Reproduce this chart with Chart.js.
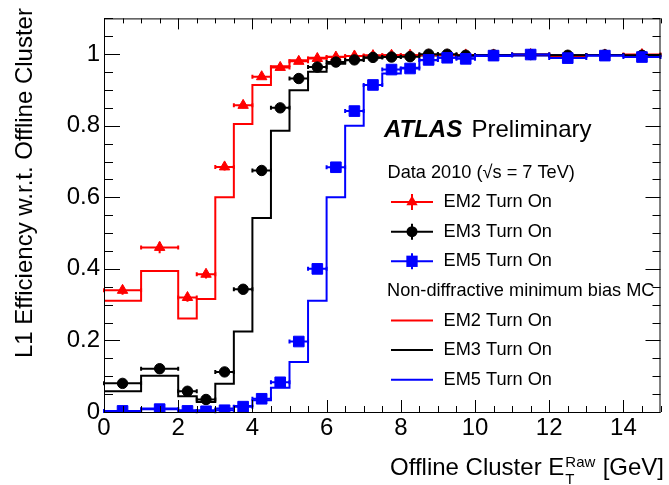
<!DOCTYPE html>
<html><head><meta charset="utf-8">
<script src="https://cdn.jsdelivr.net/npm/chart.js@4/dist/chart.umd.min.js"></script>
<style>html,body{margin:0;padding:0;background:#fff}#wrap{width:669px;height:485px}</style>
</head><body><div id="wrap"><canvas id="c" width="669" height="485"></canvas></div>
<script>
// ---- data ----
const binEdges = [0,1,2,2.5,3,3.5,4,4.5,5,5.5,6,6.5,7,7.5,8,8.5,9,9.5,10,11,12,13,14,15];
const xTickValues = [0,2,4,6,8,10,12,14];
const yTickValues = [0,0.2,0.4,0.6,0.8,1];

const em2Data = [0.34,0.46,0.32,0.385,0.685,0.857,0.937,0.963,0.98,0.988,0.992,0.995,0.996,0.997,0.997,0.998,0.998,0.998,0.998,0.999,0.995,0.998,0.999];
const em2Err  = [0.012,0.016,0.012,0.012,0.010,0.008,0.005,0.004,0.003,0.003,0.002,0.002,0.002,0.002,0.002,0.002,0.002,0.002,0.002,0.002,0.003,0.003,0.004];
const em3Data = [0.08,0.121,0.058,0.035,0.112,0.343,0.675,0.85,0.932,0.964,0.978,0.984,0.991,0.992,0.993,1.0,1.0,0.997,0.998,0.999,0.997,0.998,0.997];
const em3Err  = [0.006,0.008,0.006,0.005,0.008,0.010,0.010,0.008,0.006,0.004,0.003,0.003,0.003,0.003,0.003,0.003,0.003,0.003,0.003,0.003,0.003,0.004,0.004];
const em5Data = [0.003,0.008,0.003,0.002,0.005,0.015,0.037,0.083,0.197,0.40,0.684,0.841,0.914,0.957,0.96,0.984,0.99,0.987,0.996,0.999,0.989,0.996,0.992];
const em5Err  = [0.002,0.003,0.002,0.002,0.003,0.004,0.006,0.008,0.010,0.012,0.012,0.010,0.008,0.006,0.006,0.005,0.004,0.004,0.003,0.003,0.004,0.004,0.005];

const em2MC = [0.311,0.394,0.261,0.316,0.60,0.805,0.914,0.966,0.983,0.99,0.993,0.995,0.996,0.997,0.997,0.998,0.998,0.998,0.998,0.998,0.998,0.998,0.998];
const em3MC = [0.058,0.101,0.044,0.028,0.079,0.225,0.542,0.786,0.899,0.951,0.973,0.983,0.99,0.993,0.995,0.996,0.997,0.997,0.997,0.997,0.997,0.997,0.997];
const em5MC = [0.002,0.01,0.005,0.005,0.01,0.017,0.033,0.068,0.14,0.311,0.60,0.80,0.914,0.946,0.962,0.983,0.99,0.993,0.995,0.996,0.996,0.996,0.996];

const RED='#ff0000', BLACK='#000000', BLUE='#0000ff';
const FONT="'Liberation Sans', Arial, Helvetica, sans-serif";

function pointsFrom(vals, errs){
  return vals.map((v,i)=>({x:(binEdges[i]+binEdges[i+1])/2, y:v, xlo:binEdges[i], xhi:binEdges[i+1], err:errs[i]}));
}
function stepFrom(vals){
  const pts=[];
  vals.forEach((v,i)=>{pts.push({x:binEdges[i],y:v});pts.push({x:binEdges[i+1],y:v});});
  return pts;
}

function mcSet(label, vals, color, order){
  return {type:'line', label, data:stepFrom(vals), borderColor:color, borderWidth:2, pointRadius:0, fill:false, tension:0, order, isMC:true};
}
function dataSet(label, vals, errs, color, style, radius, order){
  return {type:'scatter', label, data:pointsFrom(vals,errs), backgroundColor:color, borderColor:color, borderWidth:1,
    pointStyle:style, pointRadius:radius, order, showLine:false, isData:true, errColor:color};
}

// error bars drawn just before each data set's markers
const errorBars = {
  id:'errorBars',
  beforeDatasetDraw(chart, args){
    const ds = chart.data.datasets[args.index];
    if(!ds.isData) return;
    const ctx=chart.ctx, xs=chart.scales.x, ys=chart.scales.y;
    ctx.save();
    ctx.strokeStyle=ds.errColor; ctx.lineWidth=2;
    ds.data.forEach(p=>{
      const y=ys.getPixelForValue(p.y), x=xs.getPixelForValue(p.x);
      const x0=xs.getPixelForValue(p.xlo), x1=xs.getPixelForValue(p.xhi);
      const yt=ys.getPixelForValue(Math.min(p.y+p.err,1.1)), yb=ys.getPixelForValue(p.y-p.err);
      ctx.beginPath();
      ctx.moveTo(x0,y); ctx.lineTo(x1,y);
      ctx.moveTo(x0,y-2); ctx.lineTo(x0,y+2);
      ctx.moveTo(x1,y-2); ctx.lineTo(x1,y+2);
      ctx.moveTo(x,yt); ctx.lineTo(x,yb);
      ctx.stroke();
    });
    ctx.restore();
  }
};

function drawMarker(ctx, style, x, y, r, color){
  ctx.fillStyle=color;
  ctx.beginPath();
  if(style==='triangle'){
    const a=-Math.PI/2;
    for(let k=0;k<3;k++){const ang=a+k*2*Math.PI/3; const px=x+r*Math.cos(ang), py=y+r*Math.sin(ang); if(k===0)ctx.moveTo(px,py); else ctx.lineTo(px,py);}
    ctx.closePath();
  } else if(style==='circle'){
    ctx.arc(x,y,r,0,2*Math.PI);
  } else {
    const s=r*Math.SQRT1_2; ctx.rect(x-s,y-s,2*s,2*s);
  }
  ctx.fill();
}

const frameAndText = {
  id:'frameAndText',
  afterDraw(chart){
    const ctx=chart.ctx, a=chart.chartArea, xs=chart.scales.x, ys=chart.scales.y;
    ctx.save();
    // frame
    ctx.strokeStyle='#000'; ctx.lineWidth=1;
    ctx.strokeRect(a.left+0.5, a.top+0.5, a.right-a.left-1, a.bottom-a.top);
    // ticks
    ctx.beginPath();
    for(let v=0; v<=15.0001; v+=0.5){
      const major = Math.abs(v/2-Math.round(v/2))<1e-6;
      const px=Math.round(xs.getPixelForValue(v))+0.5;
      ctx.moveTo(px,a.bottom); ctx.lineTo(px,a.bottom-(major?12:6));
      ctx.moveTo(px,a.top); ctx.lineTo(px,a.top+(major?11:5));
    }
    for(let v=0; v<=1.1001; v+=0.05){
      const major = Math.abs(v/0.2-Math.round(v/0.2))<1e-6;
      const py=Math.round(ys.getPixelForValue(v))+0.5;
      ctx.moveTo(a.left,py); ctx.lineTo(a.left+(major?16:9),py);
      ctx.moveTo(a.right,py); ctx.lineTo(a.right-(major?15:8),py);
    }
    ctx.stroke();

    // titles
    ctx.fillStyle='#000';
    ctx.textBaseline='alphabetic';
    ctx.textAlign='left';
    ctx.save();
    ctx.translate(32,358); ctx.rotate(-Math.PI/2);
    ctx.font='24px '+FONT;
    ctx.fillText('L1 Efficiency w.r.t. Offline Cluster',0,0);
    ctx.restore();
    ctx.font='24px '+FONT;
    const t1='Offline Cluster E';
    ctx.fillText(t1,390,475);
    const eEnd=390+ctx.measureText(t1).width;
    ctx.font='15px '+FONT;
    ctx.fillText('T',eEnd+1,484);
    ctx.fillText('Raw',eEnd+1,466.5);
    ctx.font='24px '+FONT;
    ctx.textAlign='right';
    ctx.fillText('[GeV]',664,475);
    ctx.textAlign='left';

    // ATLAS label
    ctx.font='italic bold 24px '+FONT;
    ctx.fillText('ATLAS',384,136.7);
    ctx.font='24px '+FONT;
    ctx.fillText('Preliminary',471.5,136.7);

    // legend
    ctx.font='18.2px '+FONT;
    ctx.textBaseline='middle';
    ctx.fillText('Data 2010 (\u221As = 7 TeV)',387.5,172.5);
    const rows=[
      {t:'EM2 Turn On',c:RED,m:'triangle',r:6.5,y:202},
      {t:'EM3 Turn On',c:BLACK,m:'circle',r:5.5,y:231.7},
      {t:'EM5 Turn On',c:BLUE,m:'rect',r:8,y:261.3},
    ];
    rows.forEach(o=>{
      ctx.strokeStyle=o.c; ctx.lineWidth=2;
      ctx.beginPath(); ctx.moveTo(391,o.y); ctx.lineTo(433,o.y);
      ctx.moveTo(412,o.y-8); ctx.lineTo(412,o.y+8); ctx.stroke();
      drawMarker(ctx,o.m,412,o.y,o.r,o.c);
      ctx.fillStyle='#000'; ctx.fillText(o.t,443.5,o.y);
    });
    ctx.fillText('Non-diffractive minimum bias MC',387,290.9);
    const rows2=[{t:'EM2 Turn On',c:RED,y:320.5},{t:'EM3 Turn On',c:BLACK,y:350.1},{t:'EM5 Turn On',c:BLUE,y:379.7}];
    rows2.forEach(o=>{
      ctx.strokeStyle=o.c; ctx.lineWidth=2;
      ctx.beginPath(); ctx.moveTo(391,o.y); ctx.lineTo(433,o.y); ctx.stroke();
      ctx.fillStyle='#000'; ctx.fillText(o.t,443.5,o.y);
    });
    ctx.restore();
  }
};

const bg = {id:'bg', beforeDraw(chart){const c=chart.ctx; c.save(); c.fillStyle='#fff'; c.fillRect(0,0,chart.width,chart.height); c.restore();}};

const fmt = v => String(+Number(v).toFixed(2));

new Chart(document.getElementById('c'), {
  data:{datasets:[
    dataSet('EM5 Turn On (data)', em5Data, em5Err, BLUE, 'rect', 7.5, 1),
    dataSet('EM3 Turn On (data)', em3Data, em3Err, BLACK, 'circle', 5.2, 2),
    dataSet('EM2 Turn On (data)', em2Data, em2Err, RED, 'triangle', 6, 3),
    mcSet('EM5 Turn On (MC)', em5MC, BLUE, 4),
    mcSet('EM3 Turn On (MC)', em3MC, BLACK, 5),
    mcSet('EM2 Turn On (MC)', em2MC, RED, 6),
  ]},
  options:{
    responsive:false, animation:false, devicePixelRatio:1,
    layout:{padding:{top:11,right:4,left:0,bottom:0}},
    plugins:{legend:{display:false}, tooltip:{enabled:false}},
    scales:{
      x:{type:'linear', min:0, max:15,
        grid:{display:false, drawTicks:false}, border:{display:false},
        ticks:{font:{family:FONT,size:24}, color:'#000', padding:2, maxRotation:0, autoSkip:false, callback:fmt},
        afterBuildTicks:s=>{s.ticks=xTickValues.map(v=>({value:v}));},
        afterFit:s=>{s.height=73;}
      },
      y:{type:'linear', min:0, max:1.1,
        grid:{display:false, drawTicks:false}, border:{display:false},
        ticks:{font:{family:FONT,size:24}, color:'#000', padding:4, autoSkip:false, callback:fmt},
        afterBuildTicks:s=>{s.ticks=yTickValues.map(v=>({value:v}));},
        afterFit:s=>{s.width=104;}
      }
    }
  },
  plugins:[bg, errorBars, frameAndText]
});
</script>
</body></html>
